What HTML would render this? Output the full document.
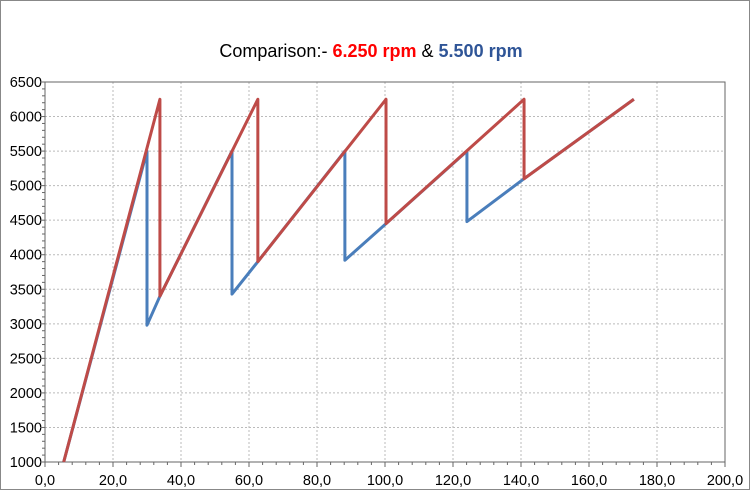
<!DOCTYPE html>
<html><head><meta charset="utf-8"><style>
body{margin:0;background:#fff;}
svg{display:block;font-family:"Liberation Sans",Arial,sans-serif;}
</style></head><body>
<svg width="750" height="490" viewBox="0 0 750 490">
<rect x="0.5" y="0.5" width="749" height="489" fill="#fff" stroke="#888"/>
<text x="371" y="57" text-anchor="middle" font-size="18">Comparison:-  <tspan fill="#ff0000" font-weight="bold">6.250 rpm</tspan> &amp; <tspan fill="#2f5597" font-weight="bold">5.500 rpm</tspan></text>
<g id="grid"></g><g id="axes"></g><g id="series"></g>
</svg>
<script>
const xTicks=[0,20,40,60,80,100,120,140,160,180,200];
const yTicks=[1000,1500,2000,2500,3000,3500,4000,4500,5000,5500,6000,6500];
const blueX=[5.5,30.0,30.0,33.8,55.0,55.0,62.6,88.2,88.2,100.3,124.1,124.1,140.9,173.2];
const blueY=[1000,5500,2980,3400,5500,3430,3900,5500,3920,4450,5500,4480,5100,6250];
const redX=[5.5,33.8,33.8,62.6,62.6,100.3,100.3,140.9,140.9,173.2];
const redY=[1000,6250,3400,6250,3900,6250,4450,6250,5100,6250];
const X0=45,X1=725,Y0=462,Y1=82;
const sx=v=>X0+(v-0)/200*(X1-X0);
const sy=v=>Y0-(v-1000)/5500*(Y0-Y1);
const NS="http://www.w3.org/2000/svg";
function mk(t,a,p){const e=document.createElementNS(NS,t);for(const k in a)e.setAttribute(k,a[k]);p.appendChild(e);return e;}
const grid=document.getElementById('grid'),axes=document.getElementById('axes'),ser=document.getElementById('series');
xTicks.forEach(t=>{if(t>0){const l=mk('line',{x1:sx(t),x2:sx(t),y1:Y1,y2:Y0,stroke:'#bbb','stroke-dasharray':'2,2','stroke-width':1},grid);

}
const tx=mk('text',{x:sx(t),y:Y0+23,'text-anchor':'middle','font-size':14.5},axes);tx.textContent=t.toFixed(1).replace('.',',');


mk('line',{x1:sx(t),x2:sx(t),y1:Y0,y2:Y0+5,stroke:'#666'},axes);});
for(let v=4;v<200;v+=4){if(v%20)mk('line',{x1:sx(v),x2:sx(v),y1:Y0,y2:Y0+3,stroke:'#666'},axes);}
yTicks.forEach(t=>{if(t>1000){const l=mk('line',{x1:X0,x2:X1,y1:sy(t),y2:sy(t),stroke:'#bbb','stroke-dasharray':'2,2','stroke-width':1},grid);

}
const tx=mk('text',{x:X0-3,y:sy(t)+5,'text-anchor':'end','font-size':14.5},axes);tx.textContent=t;


mk('line',{x1:X0-5,x2:X0,y1:sy(t),y2:sy(t),stroke:'#666'},axes);});
for(let v=1100;v<6500;v+=100){if(v%500)mk('line',{x1:X0-3,x2:X0,y1:sy(v),y2:sy(v),stroke:'#666'},axes);}
mk('rect',{x:X0,y:Y1,width:X1-X0,height:Y0-Y1,fill:'none',stroke:'#666'},axes);
const pb=mk('polyline',{points:blueX.map((x,i)=>sx(x)+','+sy(blueY[i])).join(' '),fill:'none',stroke:'#4a7ebb','stroke-width':3,'stroke-linejoin':'round'},ser);


const pr=mk('polyline',{points:redX.map((x,i)=>sx(x)+','+sy(redY[i])).join(' '),fill:'none',stroke:'#be4b48','stroke-width':3,'stroke-linejoin':'round'},ser);


</script>
</body></html>
